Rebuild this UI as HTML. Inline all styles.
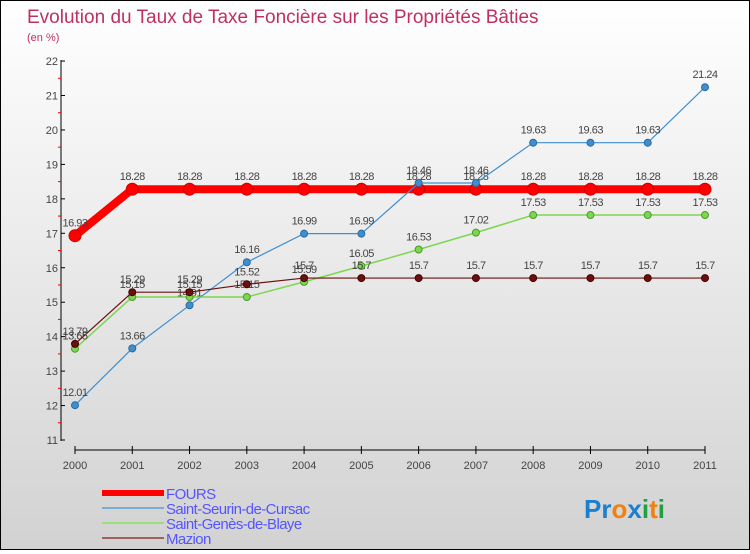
<!DOCTYPE html>
<html><head><meta charset="utf-8"><style>
body{margin:0;width:750px;height:550px;overflow:hidden;font-family:"Liberation Sans",sans-serif}
#c{position:relative;width:748px;height:548px;border:1px solid #000;background:linear-gradient(#fff,#d2d2d2)}
</style></head><body>
<div id="c">
<svg id="s" width="748" height="548">
<text x="26" y="22" font-size="19" fill="#c0305f">Evolution du Taux de Taxe Foncière sur les Propriétés Bâties</text>
<text x="26" y="40" font-size="11" fill="#c0305f">(en %)</text>
</svg>
</div>
<script>
const years=[2000,2001,2002,2003,2004,2005,2006,2007,2008,2009,2010,2011];
const fours=[16.93,18.28,18.28,18.28,18.28,18.28,18.28,18.28,18.28,18.28,18.28,18.28];
const seurin=[12.01,13.66,14.91,16.16,16.99,16.99,18.46,18.46,19.63,19.63,19.63,21.24];
const genes=[13.65,15.15,15.15,15.15,15.59,16.05,16.53,17.02,17.53,17.53,17.53,17.53];
const mazion=[13.79,15.29,15.29,15.52,15.7,15.7,15.7,15.7,15.7,15.7,15.7,15.7];
const yTicks=[11,12,13,14,15,16,17,18,19,20,21,22];
const NS="http://www.w3.org/2000/svg",s=document.getElementById('s');
const X=i=>75+i*(630/11)-1, Y=v=>439-(v-11)*34.45;
function el(t,a,p){const e=document.createElementNS(NS,t);for(const k in a)e.setAttribute(k,a[k]);(p||s).appendChild(e);return e;}
// axes
const ya=el('line',{x1:60,y1:59,x2:60,y2:440,stroke:'#000'});


const xa=el('line',{x1:74,y1:449,x2:704,y2:449,stroke:'#000'});


yTicks.forEach(v=>{
 el('line',{x1:60,y1:Y(v),x2:64,y2:Y(v),stroke:'#000'});
 if(v<22) el('line',{x1:57,y1:Y(v+0.5),x2:60,y2:Y(v+0.5),stroke:'#e00'});
 const t=el('text',{x:57,y:Y(v)+4,'font-size':11,fill:'#444','text-anchor':'end'});
 t.textContent=v;
 
 
});
years.forEach((y,i)=>{
 el('line',{x1:X(i),y1:445,x2:X(i),y2:453,stroke:'#000'});
 const t=el('text',{x:X(i),y:468,'font-size':11,fill:'#444','text-anchor':'middle'});
 t.textContent=y;
 
 
});
function series(d,col,dark,w,r,name){
 const g=el('g',{});
 
 
 el('polyline',{points:d.map((v,i)=>X(i)+','+Y(v)).join(' '),fill:'none',stroke:col,'stroke-width':w},g);
 d.forEach((v,i)=>{
  const c=el('circle',{cx:X(i),cy:Y(v),r:r,fill:col,stroke:dark,'stroke-width':1},g);
  
  
  const t=el('text',{x:X(i),y:Y(v)-9,'font-size':11,fill:'#444','text-anchor':'middle','letter-spacing':'-0.5'},g);
  t.textContent=v;
 });
}
series(fours,'#f00','#c00',8,6,'series-fours');
series(seurin,'#3f8fd0','#2a6aa0',1.2,3.5,'series-saint-seurin');
series(genes,'#7dd650','#4a9a2a',1.5,3.5,'series-saint-genes');
series(mazion,'#6b1010','#400',1.2,3.5,'series-mazion');
const leg=[['FOURS','#f00',6],['Saint-Seurin-de-Cursac','#7aaed0',2],['Saint-Genès-de-Blaye','#9adf7a',2],['Mazion','#a06060',2]];
leg.forEach((l,i)=>{
 const g=el('g',{});
 
 
 const y=492+i*15;
 el('line',{x1:101,y1:y,x2:163,y2:y,stroke:l[1],'stroke-width':l[2]},g);
 const t=el('text',{x:165,y:y+6,'font-size':15,fill:'#5555ff','letter-spacing':'-0.6'},g);
 t.textContent=l[0];
});
const lg=el('text',{x:583,y:517,'font-size':26,'font-weight':'bold'});


[['Pr','#1b7fd0'],['o','#f08010'],['x','#1b7fd0'],['i','#20a040'],['t','#f08010'],['i','#20a040']].forEach(p=>{const sp=el('tspan',{fill:p[1]},lg);sp.textContent=p[0];});
</script>
</body></html>
